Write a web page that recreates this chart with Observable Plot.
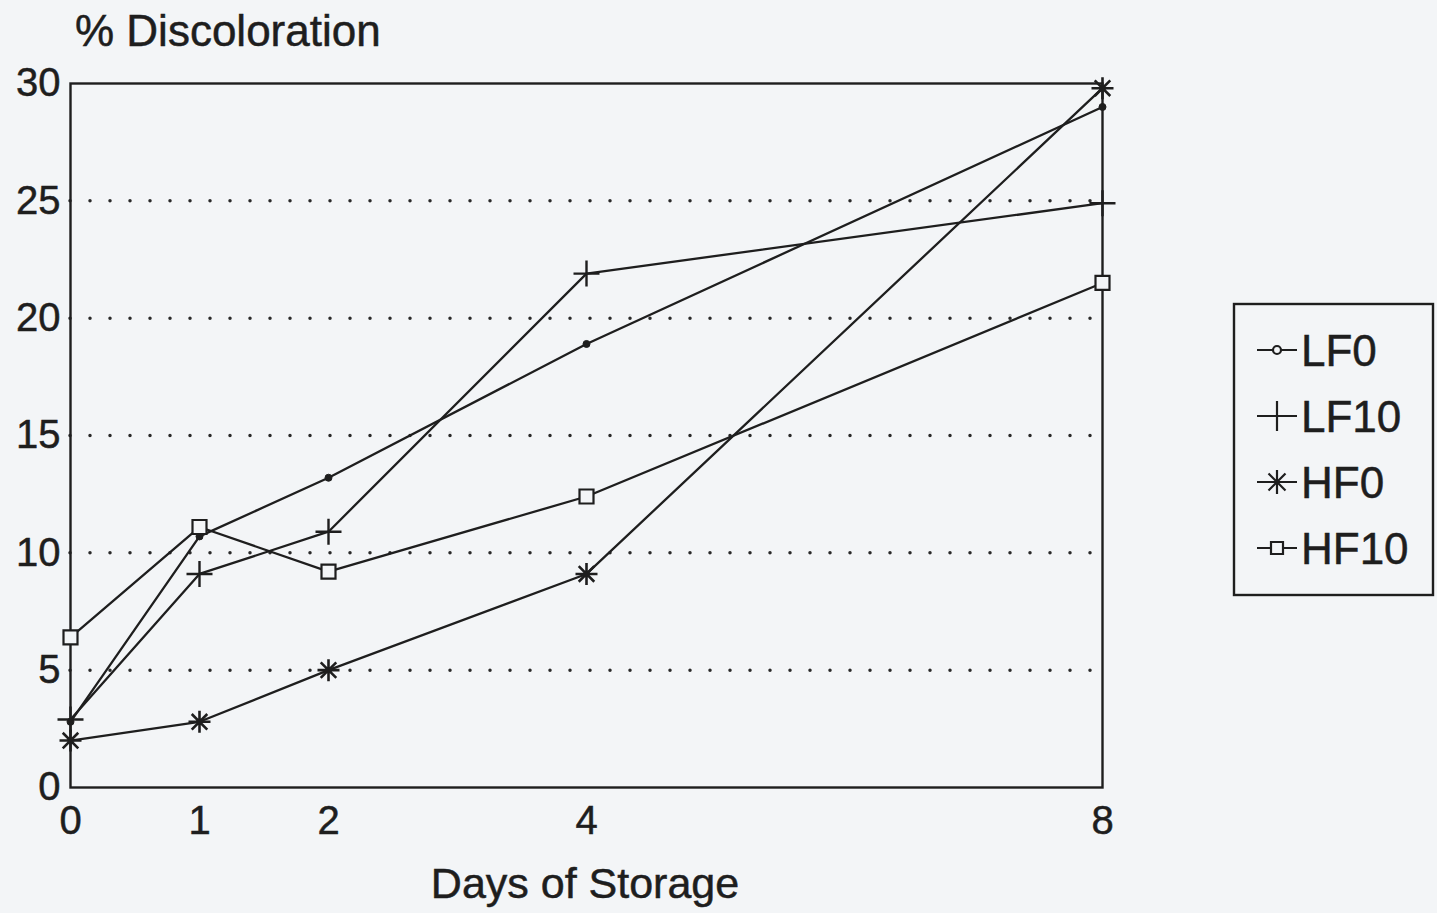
<!DOCTYPE html>
<html>
<head>
<meta charset="utf-8">
<script src="https://cdn.jsdelivr.net/npm/d3@7"></script>
<script src="https://cdn.jsdelivr.net/npm/@observablehq/plot@0.6"></script>
<style>
  html, body { margin: 0; padding: 0; background: #f3f5f7; }
  #wrap { position: relative; width: 1437px; height: 913px; font-family: "Liberation Sans", Arial, Helvetica, sans-serif; color: #1e1e1e; }
  #wrap > svg { position: absolute; left: 0; top: 0; }
  #overlay { pointer-events: none; }
  #wrap svg text { stroke: #1e1e1e; stroke-width: 0.5px; }
</style>
</head>
<body>
<div id="wrap"></div>
<script>
// ---- data ----
const days = [0, 1, 2, 4, 8];
const seriesNames = ["LF0", "LF10", "HF0", "HF10"];
const LF0  = [2.8, 10.7, 13.2, 18.9, 29.0];
const LF10 = [2.9, 9.1, 10.9, 21.9, 24.9];
const HF0  = [2.0, 2.8, 5.0, 9.1, 29.8];
const HF10 = [6.4, 11.1, 9.2, 12.4, 21.5];
const yTicks = [0, 5, 10, 15, 20, 25, 30];
const gridValues = [5, 10, 15, 20, 25];
const titleText = "% Discoloration";
const xLabelText = "Days of Storage";

const seriesValues = {LF0, LF10, HF0, HF10};
const tidy = seriesNames.flatMap(s => days.map((d, i) => ({series: s, day: d, value: seriesValues[s][i]})));

// ---- symbols ----
const ink = "#1e1e1e";
const bg = "#f3f5f7";
const symCircle = {draw(ctx) { ctx.moveTo(3.5, 0); ctx.arc(0, 0, 3.5, 0, 2 * Math.PI); }};
const symPlus = {draw(ctx) { const r = 13; ctx.moveTo(-r, 0); ctx.lineTo(r, 0); ctx.moveTo(0, -r); ctx.lineTo(0, r); }};
const symStar = {draw(ctx) {
  const r = 11, d = r * Math.SQRT1_2;
  ctx.moveTo(-r, 0); ctx.lineTo(r, 0); ctx.moveTo(0, -r); ctx.lineTo(0, r);
  ctx.moveTo(-d, -d); ctx.lineTo(d, d); ctx.moveTo(-d, d); ctx.lineTo(d, -d);
}};
const symSquare = {draw(ctx) { const h = 7; ctx.rect(-h, -h, 2 * h, 2 * h); }};

const W = 1437, H = 913;
const chart = Plot.plot({
  width: W, height: H,
  marginLeft: 70, marginRight: W - 1102, marginTop: 83, marginBottom: H - 787,
  style: {background: "transparent", fontSize: "40px", fontFamily: "'Liberation Sans', Arial, Helvetica, sans-serif", color: ink},
  x: {domain: [0, 8], ticks: days, tickSize: 0, tickPadding: 18, label: null},
  y: {domain: [0, 30], ticks: yTicks, tickSize: 0, tickPadding: 10, label: null},
  marks: [
    Plot.ruleY(gridValues, {stroke: "#2a2a2a", strokeWidth: 3.5, strokeDasharray: "0,20", strokeLinecap: "round"}),
    Plot.frame({stroke: ink, strokeWidth: 2.4}),
    Plot.line(tidy, {x: "day", y: "value", z: "series", stroke: ink, strokeWidth: 2.3}),
    Plot.dot(tidy.filter(d => d.series === "LF0"), {x: "day", y: "value", symbol: symCircle, fill: ink, stroke: ink, strokeWidth: 1}),
    Plot.dot(tidy.filter(d => d.series === "LF10"), {x: "day", y: "value", symbol: symPlus, fill: "none", stroke: ink, strokeWidth: 2.4}),
    Plot.dot(tidy.filter(d => d.series === "HF0"), {x: "day", y: "value", symbol: symStar, fill: "none", stroke: ink, strokeWidth: 2.6}),
    Plot.dot(tidy.filter(d => d.series === "HF10"), {x: "day", y: "value", symbol: symSquare, fill: bg, stroke: ink, strokeWidth: 2.2})
  ]
});
const wrap = document.getElementById("wrap");
wrap.appendChild(chart);

// ---- overlay: title, x label, legend ----
const ov = d3.select(wrap).append("svg").attr("id", "overlay").attr("width", W).attr("height", H)
  .style("font-family", "'Liberation Sans', Arial, Helvetica, sans-serif").style("fill", ink);
ov.append("text").attr("x", 75).attr("y", 46).attr("font-size", 44).text(titleText);
ov.append("text").attr("x", 585).attr("y", 898).attr("font-size", 43).attr("text-anchor", "middle").text(xLabelText);

const lg = ov.append("g");
lg.append("rect").attr("x", 1234).attr("y", 304).attr("width", 199).attr("height", 291)
  .attr("fill", "none").attr("stroke", ink).attr("stroke-width", 2.4);
const legendSyms = {
  LF0: {draw(ctx) { ctx.moveTo(4, 0); ctx.arc(0, 0, 4, 0, 2 * Math.PI); }, fill: bg},
  LF10: {draw(ctx) { ctx.moveTo(0, -15); ctx.lineTo(0, 15); }, fill: "none"},
  HF0: {draw(ctx) { const r = 12, d = r * Math.SQRT1_2; ctx.moveTo(0, -r); ctx.lineTo(0, r); ctx.moveTo(-d, -d); ctx.lineTo(d, d); ctx.moveTo(-d, d); ctx.lineTo(d, -d); }, fill: "none"},
  HF10: {draw(ctx) { ctx.rect(-6, -6, 12, 12); }, fill: bg}
};
seriesNames.forEach((s, i) => {
  const cy = 350 + i * 66;
  const g = lg.append("g").attr("transform", `translate(0,${cy})`);
  g.append("line").attr("x1", 1257).attr("x2", 1297).attr("y1", 0).attr("y2", 0).attr("stroke", ink).attr("stroke-width", 2.2);
  const p = d3.path(); legendSyms[s].draw(p);
  g.append("path").attr("transform", "translate(1277,0)").attr("d", p.toString())
    .attr("fill", legendSyms[s].fill).attr("stroke", ink).attr("stroke-width", 2.2);
  g.append("text").attr("x", 1301).attr("y", 0).attr("dy", "0.36em").attr("font-size", 44).text(s);
});
</script>
</body>
</html>
